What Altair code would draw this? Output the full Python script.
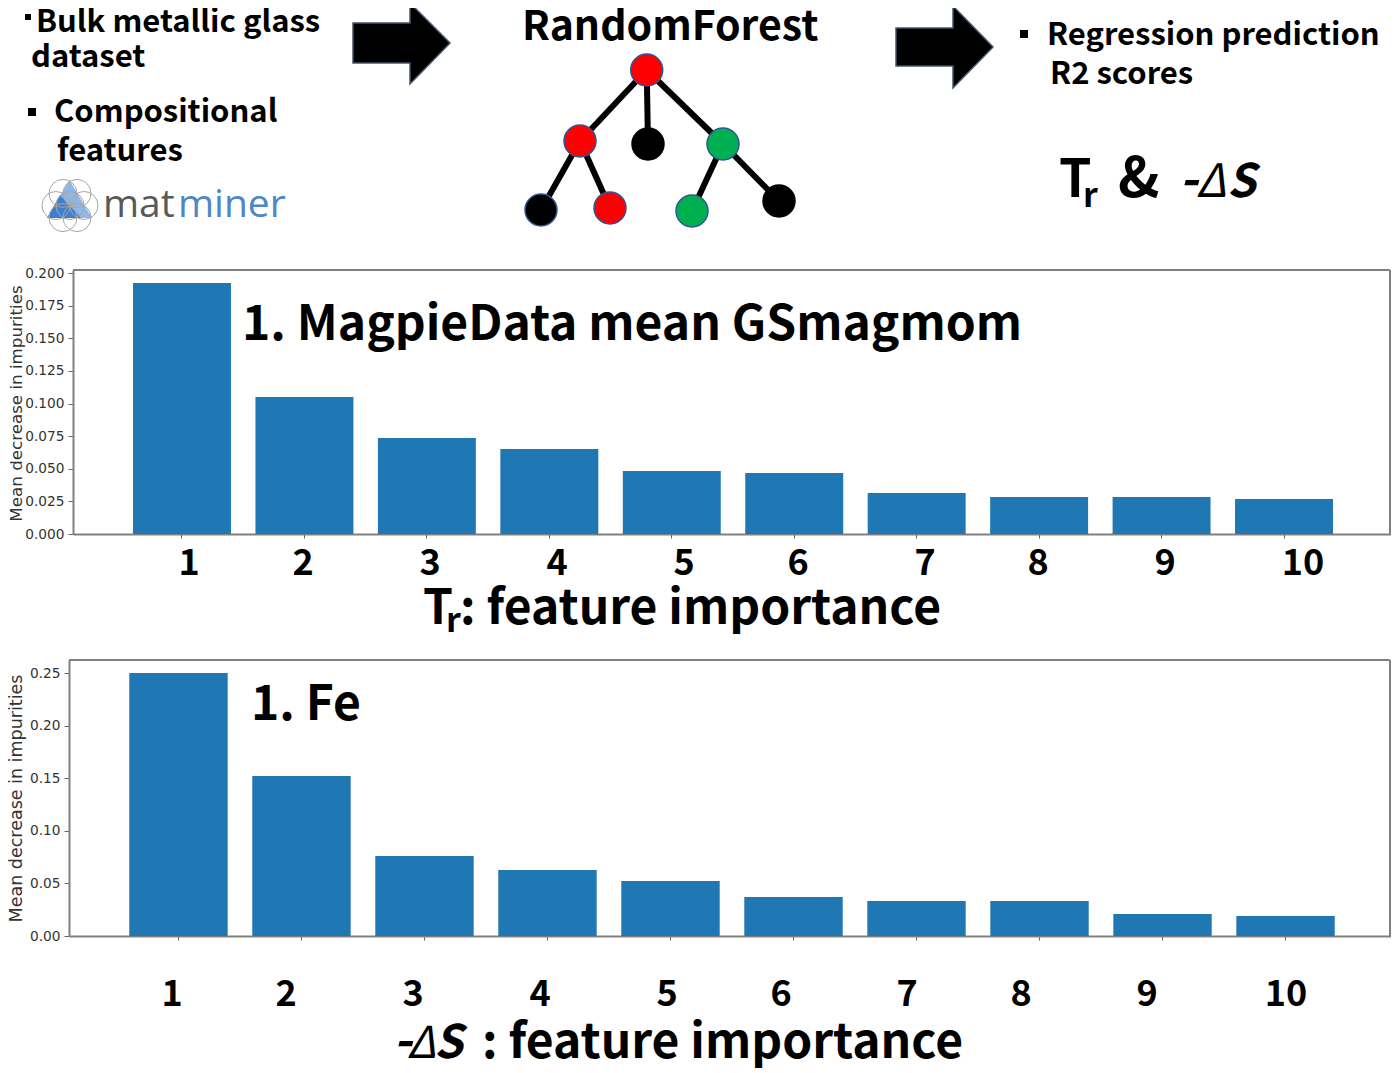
import altair as alt
import pandas as pd

# ---- data ----
ranks = ["1", "2", "3", "4", "5", "6", "7", "8", "9", "10"]
tr_values = [0.1923, 0.105, 0.0736, 0.0651, 0.0483, 0.0467, 0.0314, 0.0284, 0.0284, 0.0268]
ds_values = [0.25, 0.152, 0.076, 0.0627, 0.0523, 0.0371, 0.0333, 0.0333, 0.0209, 0.019]
tr_ticks = [0, 0.025, 0.05, 0.075, 0.1, 0.125, 0.15, 0.175, 0.2]
ds_ticks = [0, 0.05, 0.1, 0.15, 0.2, 0.25]
tr_label_x = [189, 303, 430, 557, 684, 798, 925, 1038, 1165, 1303]
ds_label_x = [172, 286, 413, 540, 667, 781, 907, 1021, 1147, 1286]

W, H = 1383, 1065
FONT = "Noto Sans CJK KR"
PX = alt.Scale(domain=[8, 8 + W], range=[0, W], nice=False, zero=False)
PY = alt.Scale(domain=[8, 8 + H], range=[0, H], nice=False, zero=False)
X = lambda f="x": alt.X(f"{f}:Q", scale=PX, axis=None)
Y = lambda f="y": alt.Y(f"{f}:Q", scale=PY, axis=None)


def bars(values, ticks, fmt, xr, yr, top, title, title_x, title_y, x_off, y_off, tsize):
    df = pd.DataFrame({"rank": ranks, "v": values})
    return alt.Chart(df).mark_bar(color="#1f77b4").encode(
        x=alt.X("rank:O", sort=None, title=None,
                scale=alt.Scale(range=xr, paddingInner=0.2, paddingOuter=0.49),
                axis=alt.Axis(orient="bottom", labels=False, offset=x_off, tickSize=4,
                              tickColor="#666666", domainColor="#808080", domainWidth=2, grid=False)),
        y=alt.Y("v:Q", title=title,
                scale=alt.Scale(domain=[0, top], range=yr, nice=False),
                axis=alt.Axis(orient="left", values=ticks, format=fmt, offset=y_off, grid=False, tickSize=5,
                              tickColor="#666666", domainColor="#808080", domainWidth=2,
                              labelFont="DejaVu Sans", labelFontSize=13.7, labelColor="#333333",
                              labelPadding=4, titleFont="DejaVu Sans", titleFontSize=tsize,
                              titleFontWeight="normal", titleColor="#333333", titleX=title_x,
                              titleY=title_y, titleBaseline="middle")),
    )


panel1 = bars(tr_values, tr_ticks, ".3f", [65, 1385], [526, 262], 0.2023,
              "Mean decrease in impurities", -57, 395, -539, -65, 16.7)
panel2 = bars(ds_values, ds_ticks, ".2f", [61, 1387], [928, 652], 0.2624,
              "Mean decrease in impurities", -53, 790, -137, -61, 17.5)


def text(rows, size, color="#000000", weight="bold", style="normal", font=FONT, align="left"):
    df = pd.DataFrame(rows, columns=["t", "x", "y"])
    return alt.Chart(df).mark_text(font=font, fontSize=size, fontWeight=weight, fontStyle=style,
                                   color=color, align=align, baseline="alphabetic").encode(
        x=X(), y=Y(), text="t:N")


def arrow(points):
    df = pd.DataFrame(points, columns=["x", "y", "y2"])
    return alt.Chart(df).mark_area(color="#000000", stroke="#44546a", strokeWidth=1.5,
                                   orient="vertical").encode(
        x=X(), y=Y(), y2="y2:Q")


def poly(points, color):
    df = pd.DataFrame(points, columns=["x", "y", "y2"])
    return alt.Chart(df).mark_area(color=color, orient="vertical").encode(x=X(), y=Y(), y2="y2:Q")


# tree
nodes = pd.DataFrame({
    "x": [646.7, 580, 648, 723, 541, 610, 692, 779],
    "y": [70, 141, 144, 144, 210, 208, 211, 201],
    "fill": ["#ff0000", "#ff0000", "#000000", "#00b050", "#000000", "#ff0000", "#00b050", "#000000"],
    "line": ["#2f5597", "#2f5597", "#000000", "#2f5597", "#2f5597", "#2f5597", "#2f5597", "#000000"],
})
edges = pd.DataFrame({
    "x": [646.7, 646.7, 646.7, 580, 580, 723, 723],
    "y": [70, 70, 70, 141, 141, 144, 144],
    "x2": [580, 648, 723, 541, 610, 692, 779],
    "y2": [141, 144, 144, 210, 208, 211, 201],
})
edge_layer = alt.Chart(edges).mark_rule(color="#000000", strokeWidth=6).encode(
    x=X(), y=Y(), x2="x2:Q", y2="y2:Q")
node_layer = alt.Chart(nodes).mark_point(filled=True, size=1024, opacity=1, strokeOpacity=1,
                                         strokeWidth=1.5, shape="circle").encode(
    x=X(), y=Y(), fill=alt.Fill("fill:N", scale=None), stroke=alt.Stroke("line:N", scale=None))

# matminer logo
logo_circles = pd.DataFrame({
    "x": [70, 84, 56, 77, 63, 77, 63],
    "y": [205.5, 205.5, 205.5, 193.4, 193.4, 217.6, 217.6],
})
logo_circle_layer = alt.Chart(logo_circles).mark_point(
    filled=False, size=784, color="#a6a6a6", strokeWidth=1, opacity=1, shape="circle"
).encode(x=X(), y=Y())

# frames (the other two sides are the axis lines)
frames = pd.DataFrame({
    "x": [73, 1390, 69, 1390],
    "y": [270, 270, 660, 660],
    "x2": [1390, 1390, 1390, 1390],
    "y2": [270, 534, 660, 936],
})
frame_layer = alt.Chart(frames).mark_rule(color="#808080", strokeWidth=2).encode(
    x=X(), y=Y(), x2="x2:Q", y2="y2:Q")

bullets = pd.DataFrame({"x": [28, 32, 1024], "y": [17, 112, 34], "s": [36, 64, 64]})
bullet_layer = alt.Chart(bullets).mark_square(color="#000000", opacity=1).encode(
    x=X(), y=Y(), size=alt.Size("s:Q", scale=None))

overlay = alt.layer(
    frame_layer,
    arrow([(353, 23, 63), (410, 23, 63), (410.01, 3, 84), (450, 43, 43)]),
    arrow([(896, 28, 66), (953, 28, 66), (953.01, 6, 88), (993, 47, 47)]),
    edge_layer, node_layer,
    poly([(47, 218, 218), (69.5, 180, 218), (92, 218, 218)], "#8fb8e8"),
    poly([(47, 218, 218), (60, 195, 218), (81, 218, 218)], "#3f7fcf"),
    logo_circle_layer,
    bullet_layer,
    text([("Bulk metallic glass", 36, 32), ("dataset", 31, 67),
          ("Compositional", 54, 122), ("features", 57, 161)], 31),
    text([("RandomForest", 522, 40)], 41),
    text([("Regression prediction", 1047, 45), ("R2 scores", 1050, 84)], 31),
    text([("mat", 103, 217)], 39, color="#595959", weight="normal", font="Open Sans"),
    text([("miner", 178, 217)], 39, color="#4f86c6", weight="normal", font="Open Sans"),
    text([("T", 1059, 197)], 52),
    text([("&", 1118, 197)], 56),
    text([("r", 1083, 207)], 34),
    text([("-", 1179, 197)], 50, style="italic"),
    text([("S", 1227, 197)], 46, style="italic"),
    text([("Δ", 1196, 197)], 46, style="italic", weight="normal"),
    text([("1. MagpieData mean GSmagmom", 242, 340), ("1. Fe", 251, 720)], 48),
    text([(s, x, 575) for s, x in zip(ranks, tr_label_x)], 36, align="center"),
    text([(s, x, 1006) for s, x in zip(ranks, ds_label_x)], 36, align="center"),
    text([("T", 423, 624), (": feature importance", 460, 624)], 48),
    text([("r", 446, 632)], 34),
    text([("-", 393, 1058)], 50, style="italic"),
    text([("S", 434, 1058)], 46, style="italic"),
    text([("Δ", 407, 1058)], 44, style="italic", weight="normal"),
    text([(": feature importance", 482, 1058)], 48),
)

chart = alt.layer(panel1, panel2, overlay).resolve_scale(
    x="independent", y="independent"
).resolve_axis(x="independent", y="independent").properties(
    width=W, height=H, padding=0, autosize=alt.AutoSizeParams(type="none")
).configure_view(stroke=None)

chart.save("out.html", embed_options={"renderer": "svg", "actions": False})
